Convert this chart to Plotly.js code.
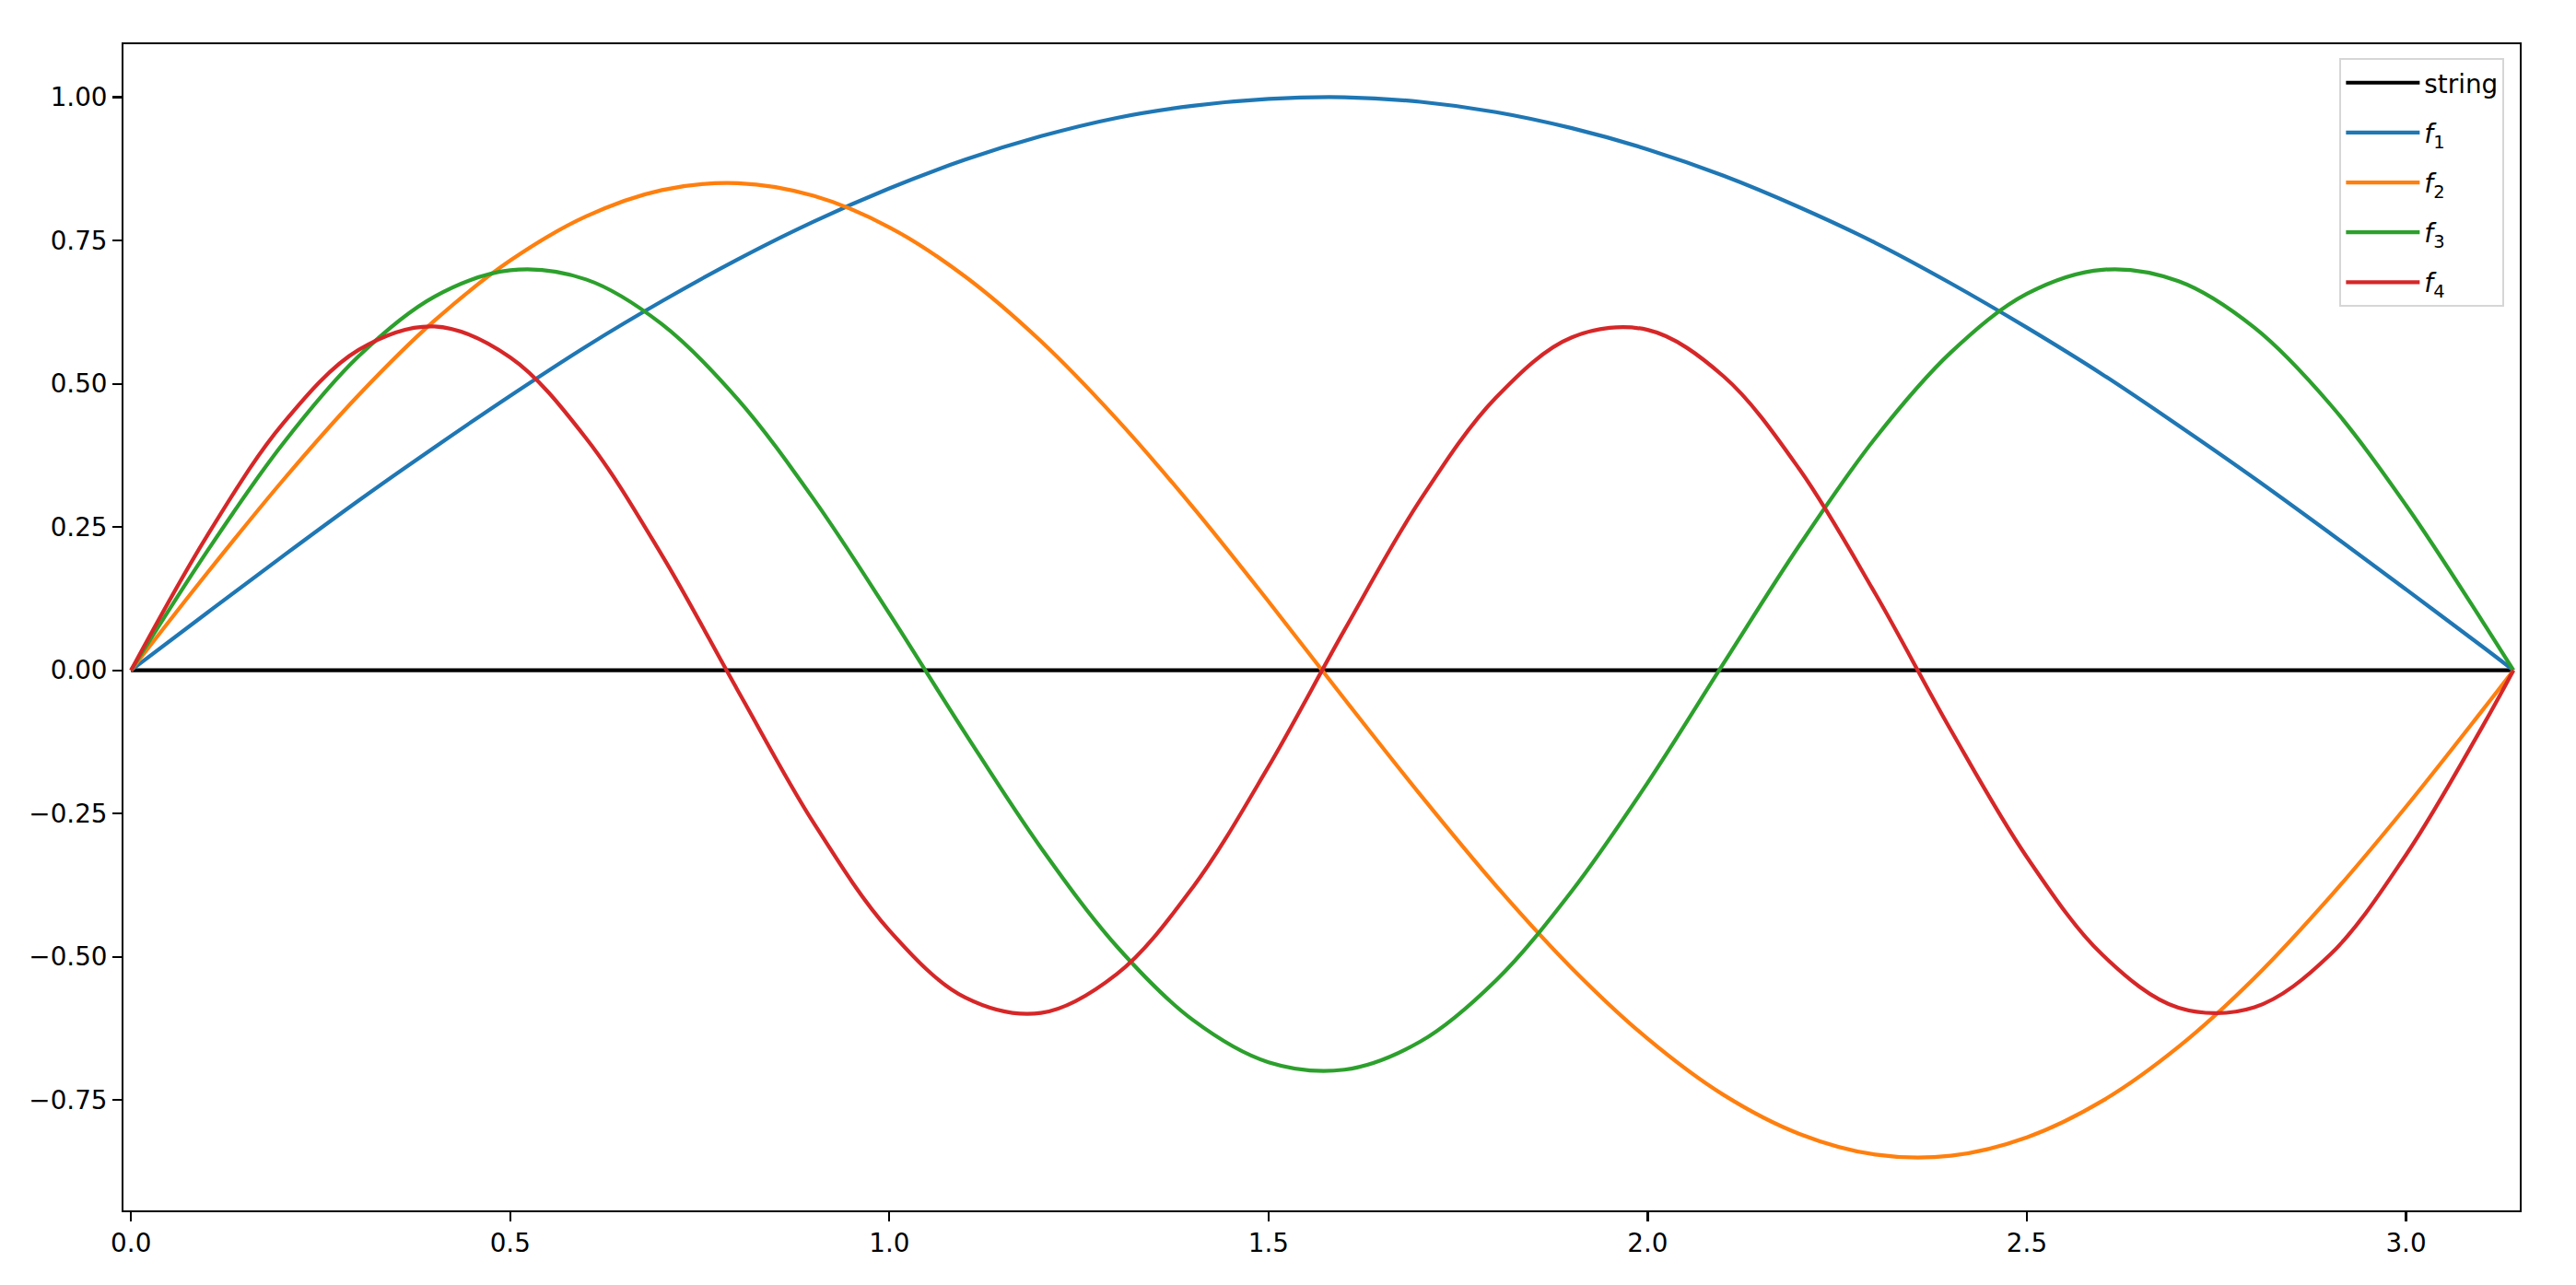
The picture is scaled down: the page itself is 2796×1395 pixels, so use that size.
<!DOCTYPE html>
<html>
<head>
<meta charset="utf-8">
<script src="https://cdn.plot.ly/plotly-3.0.1.min.js"></script>
<style>html,body{margin:0;padding:0;background:#fff;}#chart{width:2796px;height:1395px;}</style>
</head>
<body>
<div id="chart"></div>
<script>
// Sample positions along the string (x) and displacement readings for each mode
const xs = [0, 0.1, 0.2, 0.3, 0.4, 0.5, 0.6, 0.7, 0.8, 0.9, 1.0, 1.1, 1.2, 1.3, 1.4, 1.5, 1.6,
            1.7, 1.8, 1.9, 2.0, 2.1, 2.2, 2.3, 2.4, 2.5, 2.6, 2.7, 2.8, 2.9, 3.0, 3.1, 3.1416];
const stringY = [0, 0, 0, 0, 0, 0, 0, 0, 0, 0, 0, 0, 0, 0, 0, 0, 0,
                 0, 0, 0, 0, 0, 0, 0, 0, 0, 0, 0, 0, 0, 0, 0, 0];
const f1 = [0, 0.100, 0.199, 0.296, 0.389, 0.479, 0.565, 0.644, 0.717, 0.783, 0.841, 0.891, 0.932, 0.964, 0.985, 0.997, 1.000,
            0.992, 0.974, 0.946, 0.909, 0.863, 0.808, 0.746, 0.675, 0.598, 0.516, 0.427, 0.335, 0.239, 0.141, 0.042, 0];
const f2 = [0, 0.169, 0.331, 0.480, 0.610, 0.715, 0.792, 0.838, 0.850, 0.828, 0.773, 0.687, 0.574, 0.438, 0.285, 0.120, -0.050,
            -0.217, -0.376, -0.520, -0.643, -0.741, -0.809, -0.845, -0.847, -0.815, -0.751, -0.657, -0.537, -0.395, -0.238, -0.071, 0];
const f3 = [0, 0.207, 0.395, 0.548, 0.652, 0.698, 0.682, 0.604, 0.473, 0.299, 0.099, -0.110, -0.310, -0.482, -0.610, -0.684, -0.697,
            -0.648, -0.541, -0.385, -0.196, 0.012, 0.218, 0.405, 0.555, 0.657, 0.699, 0.679, 0.598, 0.464, 0.288, 0.087, 0];
const f4 = [0, 0.234, 0.430, 0.559, 0.600, 0.546, 0.405, 0.201, -0.035, -0.266, -0.454, -0.571, -0.598, -0.530, -0.379, -0.168, 0.070,
            0.297, 0.476, 0.581, 0.594, 0.513, 0.351, 0.134, -0.105, -0.326, -0.497, -0.589, -0.588, -0.496, -0.322, -0.100, 0];
const seriesNames = ["string", "<i>f</i><sub>1</sub>", "<i>f</i><sub>2</sub>", "<i>f</i><sub>3</sub>", "<i>f</i><sub>4</sub>"];
const xTicks = [0, 0.5, 1.0, 1.5, 2.0, 2.5, 3.0];
const yTicks = [-0.75, -0.5, -0.25, 0, 0.25, 0.5, 0.75, 1.0];

const colors = ["#000000", "#1f77b4", "#ff7f0e", "#2ca02c", "#d62728"];
const ys = [stringY, f1, f2, f3, f4];

const traces = ys.map((y, i) => ({
  x: xs, y: y, type: "scatter", mode: "lines",
  name: seriesNames[i],
  legendgroup: "g" + i,
  line: {color: colors[i], width: 4.2, shape: i === 0 ? "linear" : "spline", smoothing: 1.0}
}));

const fontFam = "DejaVu Sans, sans-serif";
const axisCommon = {
  showline: true, mirror: true, linecolor: "#000", linewidth: 2.2,
  ticks: "outside", ticklen: 9.7, tickwidth: 2.2, tickcolor: "#000",
  showgrid: false, zeroline: false,
  tickfont: {family: fontFam, size: 27.8, color: "#000"}
};

const layout = {
  width: 2796, height: 1395,
  margin: {l: 134, r: 61, t: 48, b: 81, pad: 0},
  paper_bgcolor: "#fff", plot_bgcolor: "#fff",
  showlegend: true,
  xaxis: Object.assign({}, axisCommon, {
    range: [-0.01, 3.15], tickmode: "array", tickvals: xTicks,
    ticktext: xTicks.map(v => v.toFixed(1))
  }),
  yaxis: Object.assign({}, axisCommon, {
    range: [-0.9425, 1.0925], tickmode: "array", tickvals: yTicks,
    ticktext: yTicks.map(v => (v < 0 ? "\u2212" : "") + Math.abs(v).toFixed(2))
  }),
  legend: {
    x: 0.9936, xanchor: "right", y: 0.988, yanchor: "top",
    bgcolor: "rgba(255,255,255,0.8)", bordercolor: "#d6d6d6", borderwidth: 2,
    font: {family: fontFam, size: 27.8, color: "#000"},
    traceorder: "grouped", tracegroupgap: 15, itemwidth: 80
  }
};

Plotly.newPlot("chart", traces, layout, {staticPlot: true, displayModeBar: false});
</script>
</body>
</html>
